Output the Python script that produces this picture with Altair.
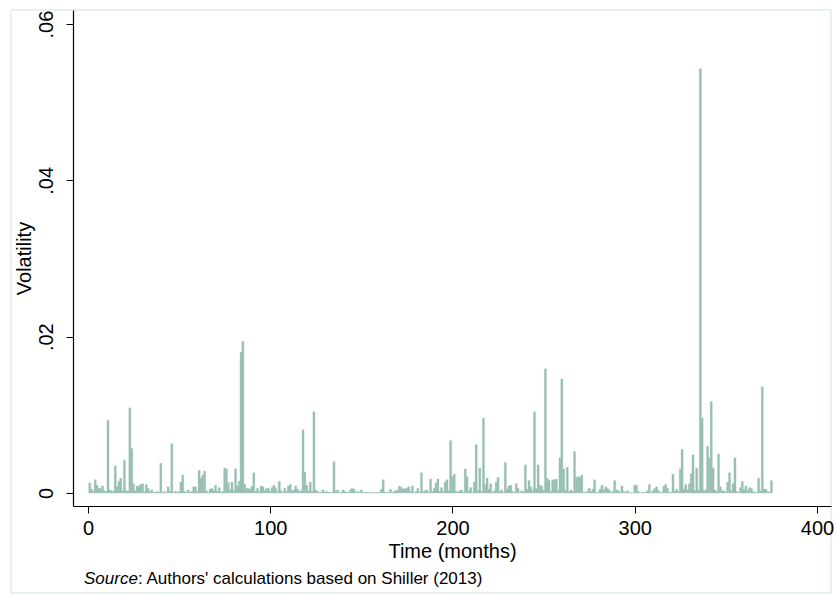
import altair as alt
import pandas as pd

# Volatility by month (in units of 0.001), months 1..375
vol_milli = [
    1.3, 0.5, 0.2, 1.7, 1.0, 0.6, 0.6, 0.9, 0.3, 0.2,      # 1-10
    9.3, 0.4, 0.3, 0.2, 3.5, 0.8, 1.5, 1.9, 0.3, 4.2,      # 11-20
    0.3, 0.2, 10.9, 5.7, 1.2, 0.3, 0.9, 0.9, 1.1, 1.2,     # 21-30
    0.2, 1.1, 0.6, 0.2, 0.4, 0.1, 0.1, 0.2, 0.1, 3.8,      # 31-40
    0.1, 0.2, 0.1, 0.8, 0.2, 6.3, 0.1, 0.2, 0.1, 0.2,      # 41-50
    1.4, 2.3, 0.2, 0.1, 0.4, 0.1, 0.2, 0.8, 0.8, 0.2,      # 51-60
    2.9, 1.9, 2.3, 2.8, 0.3, 0.1, 0.5, 0.6, 0.3, 1.0,      # 61-70
    0.2, 0.7, 0.1, 0.2, 3.2, 3.1, 1.3, 0.4, 1.4, 0.3,      # 71-80
    3.1, 0.9, 1.5, 18.0, 19.4, 1.1, 0.6, 0.6, 0.5, 0.9,    # 81-90
    2.6, 0.2, 0.6, 0.2, 0.9, 0.8, 0.3, 0.6, 0.6, 0.2,      # 91-100
    0.7, 1.0, 0.7, 0.2, 1.5, 0.3, 0.1, 0.6, 0.2, 0.9,      # 101-110
    1.1, 0.3, 0.4, 0.9, 0.5, 0.2, 0.3, 8.1, 2.7, 1.0,      # 111-120
    0.3, 1.4, 0.2, 10.4, 0.4, 0.2, 0.1, 0.1, 0.4, 0.1,     # 121-130
    0.2, 0.1, 0.1, 0.1, 4.0, 0.3, 0.4, 0.1, 0.1, 0.4,      # 131-140
    0.2, 0.1, 0.1, 0.4, 0.6, 0.5, 0.1, 0.2, 0.1, 0.4,      # 141-150
    0.1, 0.05, 0.1, 0.1, 0.05, 0.05, 0.1, 0.05, 0.1, 0.1,  # 151-160
    0.5, 1.7, 0.1, 0.1, 0.1, 0.5, 0.1, 0.2, 0.3, 0.4,      # 161-170
    0.9, 0.7, 0.5, 0.6, 0.6, 0.8, 0.2, 0.9, 0.1, 0.2,      # 171-180
    0.6, 0.1, 2.6, 0.2, 0.3, 0.4, 0.1, 1.8, 0.2, 0.6,      # 181-190
    1.3, 1.8, 0.2, 0.7, 0.2, 1.4, 1.7, 0.3, 6.7, 2.1,      # 191-200
    2.4, 0.2, 0.1, 0.3, 0.4, 0.1, 3.1, 2.1, 0.3, 0.7,      # 201-210
    0.1, 1.4, 6.2, 0.3, 3.2, 0.2, 9.6, 1.1, 1.9, 0.5,      # 211-220
    1.2, 0.1, 0.3, 1.4, 2.0, 0.2, 0.4, 0.1, 3.9, 0.5,      # 221-230
    0.9, 1.0, 0.2, 0.1, 1.2, 0.6, 0.1, 0.3, 0.2, 3.6,      # 231-240
    0.5, 1.6, 0.8, 0.3, 10.4, 0.6, 3.6, 1.0, 0.9, 0.4,     # 241-250
    15.9, 1.9, 1.6, 0.2, 1.7, 1.7, 1.8, 0.3, 4.5, 14.6,    # 251-260
    3.1, 0.4, 3.3, 0.2, 0.4, 0.2, 5.3, 2.0, 2.1, 2.0,      # 261-270
    2.3, 0.1, 0.1, 0.2, 0.6, 0.2, 0.5, 1.7, 0.1, 0.1,      # 271-280
    0.5, 1.0, 0.4, 0.8, 0.6, 0.4, 0.1, 0.2, 1.6, 0.4,      # 281-290
    0.3, 0.1, 0.9, 0.2, 0.1, 0.3, 0.1, 0.05, 0.05, 1.0,    # 291-300
    1.0, 0.2, 0.05, 0.1, 0.05, 0.1, 0.3, 1.1, 0.1, 0.3,    # 301-310
    0.6, 0.8, 0.3, 0.1, 0.1, 0.9, 1.1, 0.6, 0.1, 0.1,      # 311-320
    2.4, 0.2, 0.5, 0.2, 3.1, 5.6, 0.5, 1.1, 0.4, 1.2,      # 321-330
    2.5, 4.9, 0.3, 3.2, 0.4, 54.3, 9.6, 0.3, 0.4, 6.0,     # 331-340
    4.5, 11.7, 3.2, 0.4, 0.2, 5.0, 0.8, 0.3, 0.3, 0.1,     # 341-350
    1.4, 2.6, 0.3, 1.2, 4.5, 0.2, 0.1, 0.7, 1.5, 0.4,      # 351-360
    0.9, 0.3, 0.7, 0.6, 0.2, 0.1, 0.1, 1.9, 0.3, 13.6,     # 361-370
    0.5, 0.5, 0.2, 0.1, 1.6,                               # 371-375
]
months = list(range(1, len(vol_milli) + 1))
x_ticks = [0, 100, 200, 300, 400]
y_ticks = [0, 0.02, 0.04, 0.06]

df = pd.DataFrame({"month": months, "vol": [v / 1000 for v in vol_milli]})

FONT = "Liberation Sans"
BAR = "#97beb4"

W, H = 758, 496

note_df = pd.DataFrame({"a": [0]})
frame = alt.Chart(note_df).mark_rect(fill=None, stroke="#e2ecee", strokeWidth=1.5).encode(
    x=alt.value(-62), x2=alt.value(W), y=alt.value(0), y2=alt.value(583)
)

bars = alt.Chart(df).transform_calculate(
    x0="datum.month - 0.6", x1="datum.month + 0.6"
).mark_bar(color=BAR, stroke="#a9cac1", strokeWidth=0.3).encode(
    x=alt.X("x0:Q",
            scale=alt.Scale(domain=[-8.2, 407.7], nice=False, zero=False),
            axis=alt.Axis(values=x_ticks, title="Time (months)", grid=False,
                          labelFontSize=20, titleFontSize=20, labelFont=FONT,
                          titleFont=FONT, labelColor="black", titleColor="black",
                          titleFontWeight="normal", domainColor="black",
                          tickColor="black", tickSize=7, labelPadding=5,
                          titlePadding=3, labelFlush=False, domainWidth=1.2,
                          zindex=1)),
    x2="x1:Q",
    y=alt.Y("vol:Q",
            scale=alt.Scale(domain=[-0.00166, 0.0618], nice=False, zero=False),
            axis=alt.Axis(values=y_ticks, title="Volatility", grid=False,
                          labelExpr="datum.value == 0 ? '0' : replace(format(datum.value, '.2f'), '0.', '.')",
                          labelAngle=270, labelAlign="center", labelBaseline="bottom",
                          labelFontSize=20, titleFontSize=20, labelFont=FONT,
                          titleFont=FONT, labelColor="black", titleColor="black",
                          titleFontWeight="normal", domainColor="black",
                          tickColor="black", tickSize=7, labelPadding=10,
                          titlePadding=2, labelFlush=False, domainWidth=1.2,
                          zindex=1)),
    y2=alt.datum(0),
)

src1 = alt.Chart(note_df).mark_text(
    text="Source", font=FONT, fontSize=17, fontStyle="italic", align="left",
    baseline="alphabetic", color="black"
).encode(x=alt.value(11), y=alt.value(574))
src2 = alt.Chart(note_df).mark_text(
    text=": Authors' calculations based on Shiller (2013)", font=FONT, fontSize=17,
    align="left", baseline="alphabetic", color="black"
).encode(x=alt.value(65), y=alt.value(574))

chart = alt.layer(frame, bars, src1, src2).properties(
    width=W, height=H,
    autosize=alt.AutoSizeParams(type="none"),
    padding={"left": 73, "top": 10, "right": 5, "bottom": 89},
    background="white",
).configure_view(stroke=None)

chart.save("out.html", embed_options={"renderer": "svg", "actions": False})
